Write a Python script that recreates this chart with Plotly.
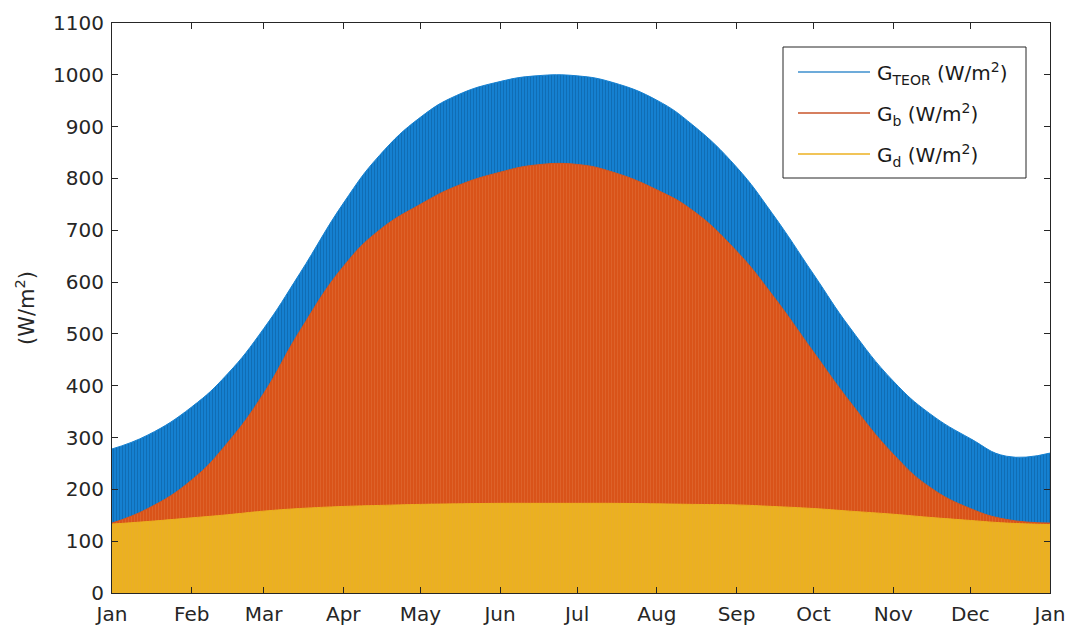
import plotly.graph_objects as go

# Semi-monthly sample dates across one year
dates = [
    "2015-01-01", "2015-01-15", "2015-02-01", "2015-02-15", "2015-03-01", "2015-03-15",
    "2015-04-01", "2015-04-15", "2015-05-01", "2015-05-15", "2015-06-01", "2015-06-15",
    "2015-07-01", "2015-07-15", "2015-08-01", "2015-08-15", "2015-09-01", "2015-09-15",
    "2015-10-01", "2015-10-15", "2015-11-01", "2015-11-15", "2015-12-01", "2015-12-15",
    "2016-01-01",
]

# Daily peak irradiance (W/m^2)
g_teor = [278, 305, 359, 423, 510, 616, 752, 844, 918, 960, 987, 998,
          998, 985, 951, 903, 822, 732, 615, 513, 409, 347, 298, 264, 270]
g_b = [135, 163, 218, 290, 385, 505, 630, 700, 750, 785, 812, 826,
       827, 812, 778, 738, 660, 575, 465, 370, 268, 205, 163, 142, 135]
g_d = [133, 138, 145, 151, 158, 163, 167, 169, 171, 172, 173, 173,
       173, 173, 172, 171, 170, 167, 163, 158, 152, 146, 140, 135, 132]

month_ticks = ["2015-%02d-01" % m for m in range(1, 13)] + ["2016-01-01"]
month_labels = ["Jan", "Feb", "Mar", "Apr", "May", "Jun", "Jul",
                "Aug", "Sep", "Oct", "Nov", "Dec", "Jan"]

legend_names = [
    "G<sub>TEOR</sub> (W/m<sup>2</sup>)",
    "G<sub>b</sub> (W/m<sup>2</sup>)",
    "G<sub>d</sub> (W/m<sup>2</sup>)",
]
fill_colors = ["#1580D0", "#D95319", "#EBB120"]
stripe_colors = ["#0B5A98", "#E8874F", "#E9A640"]
stripe_solidity = [0.35, 0.2, 0.15]
legend_colors = ["#3C8FCE", "#C8552A", "#EDB120"]

fig = go.Figure()

# Filled envelopes with fine vertical hatching for the daily cycles
for vals, col, stripe, sol in zip([g_teor, g_b, g_d], fill_colors, stripe_colors, stripe_solidity):
    fig.add_trace(go.Scatter(
        x=dates, y=vals, mode="lines",
        line=dict(color=col, width=1, shape="spline", smoothing=1.3),
        fill="tozeroy", fillcolor=col,
        fillpattern=dict(shape="|", bgcolor=col, fgcolor=stripe,
                         size=3, solidity=sol),
        showlegend=False, hoverinfo="skip",
    ))

axis_color = "#262626"
font_family = "DejaVu Sans, Verdana, sans-serif"

# Boxed legend in the upper right, drawn in paper coordinates
x0_px, x1_px, y_top, y_bot = 112, 1050, 23, 593
def px(x):
    return (x - x0_px) / (x1_px - x0_px)
def py(y):
    return (y_bot - y) / (y_bot - y_top)

shapes = [dict(type="rect", xref="paper", yref="paper",
               x0=px(783), x1=px(1026), y0=py(178), y1=py(47),
               line=dict(color=axis_color, width=1), fillcolor="white", layer="above")]
annotations = []
for i, (name, lc) in enumerate(zip(legend_names, legend_colors)):
    row_y = 72 + 41 * i
    shapes.append(dict(type="line", xref="paper", yref="paper",
                       x0=px(798), x1=px(870), y0=py(row_y), y1=py(row_y),
                       line=dict(color=lc, width=1.5), layer="above"))
    annotations.append(dict(xref="paper", yref="paper", x=px(875), y=py(row_y + 2),
                            xanchor="left", yanchor="middle", showarrow=False,
                            text=name, font=dict(size=20, color="#1a1a1a", family=font_family)))

fig.update_layout(
    width=1072, height=628,
    margin=dict(l=112, r=22, t=23, b=35),
    paper_bgcolor="white", plot_bgcolor="white",
    font=dict(family=font_family, size=20, color=axis_color),
    hovermode=False,
    showlegend=False,
    shapes=shapes,
    annotations=annotations,
    xaxis=dict(
        type="date", range=["2015-01-01", "2016-01-01"],
        tickmode="array", tickvals=month_ticks, ticktext=month_labels,
        ticks="inside", ticklen=6, tickcolor=axis_color,
        showline=True, linecolor=axis_color, linewidth=1, mirror="ticks",
        showgrid=False, zeroline=False, ticklabelstandoff=3, automargin=False,
    ),
    yaxis=dict(
        range=[0, 1100], tickmode="linear", tick0=0, dtick=100,
        ticks="inside", ticklen=6, tickcolor=axis_color,
        showline=True, linecolor=axis_color, linewidth=1, mirror="ticks",
        showgrid=False, zeroline=False, automargin=False, ticklabelstandoff=3,
        title=dict(text="(W/m<sup>2</sup>)", standoff=12, font=dict(size=21)),
    ),
)

fig.write_html("out.html")
